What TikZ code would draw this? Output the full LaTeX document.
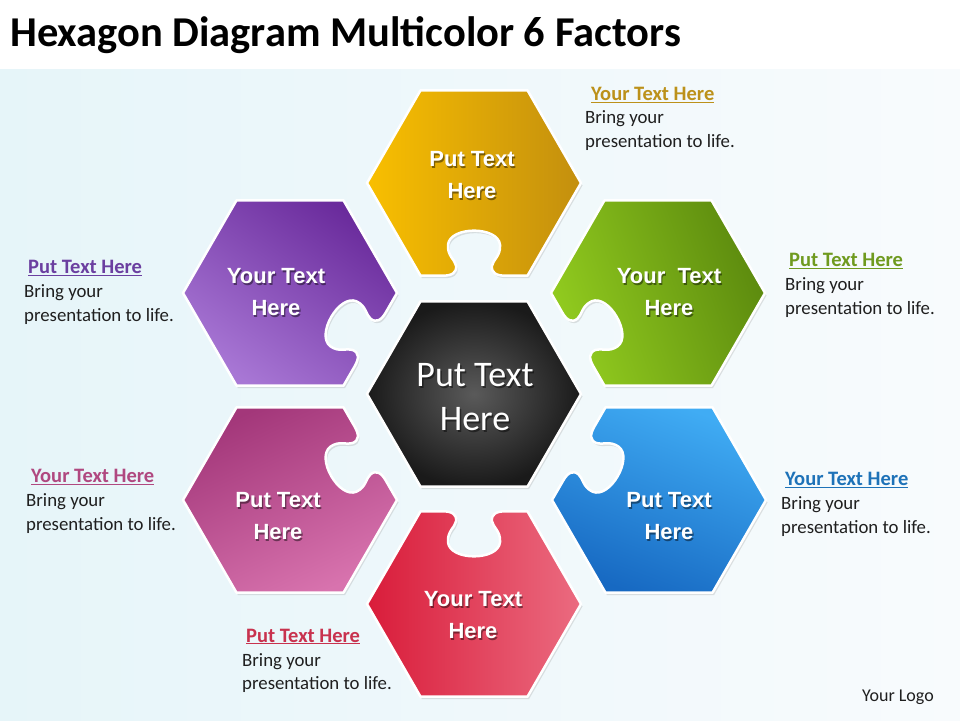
\documentclass[tikz,border=0pt]{standalone}
\usepackage{fontspec}
\setmainfont{Carlito}
\newfontfamily\labfont{Liberation Sans}
\usetikzlibrary{shadows}
\definecolor{bgA}{HTML}{E6F5F9}
\definecolor{bgB}{HTML}{F8FBFD}
\definecolor{oA}{HTML}{F9BF00}\definecolor{oB}{HTML}{C38F0E}
\definecolor{pA}{HTML}{6A2B9C}\definecolor{pB}{HTML}{A877D5}
\definecolor{gA}{HTML}{92CC1F}\definecolor{gB}{HTML}{5C8A0E}
\definecolor{cA}{HTML}{5A5A5A}\definecolor{cB}{HTML}{1A1A1A}
\definecolor{mA}{HTML}{A3377A}\definecolor{mB}{HTML}{D873AE}
\definecolor{bA}{HTML}{40ACF4}\definecolor{bB}{HTML}{1769C2}
\definecolor{rA}{HTML}{D91C3A}\definecolor{rB}{HTML}{EB6B80}
\definecolor{hO}{HTML}{BC911A}
\definecolor{hP}{HTML}{6B3FA0}
\definecolor{hG}{HTML}{6F9A1F}
\definecolor{hM}{HTML}{B04880}
\definecolor{hB}{HTML}{1E72B8}
\definecolor{hR}{HTML}{C8324E}
\newcommand\hexR{107}
\newcommand\hexH{92.66}
\newcommand\hexpiece[4]{%
  \begin{scope}[shift={(#1,#2)}]
    \path[piece,#4] ({60*(#3+1)}:\hexR)
      \foreach \j in {2,...,6}{ -- ({60*(#3+\j)}:\hexR) }
      {[shift={({60*#3+30}:\hexH)},rotate={60*#3+120}]
        -- (-31,0) .. controls (-22,0) and (-17,3) .. (-18,10)
        .. controls (-19,16) and (-27,20) .. (-26,31)
        .. controls (-25,40) and (-13,45) .. (0,45)
        .. controls (13,45) and (25,40) .. (26,31)
        .. controls (27,20) and (19,16) .. (18,10)
        .. controls (17,3) and (22,0) .. (31,0)}
      -- cycle;
  \end{scope}}
\newcommand\hexlabel[4]{% x, y, name, text
  \node[hexlbl,text=black,opacity=.45,xshift=1.2pt,yshift=-1.6pt] (#3-sh) at (#1,#2) {#4};
  \node[hexlbl] (#3) at (#1,#2) {#4};}
\newcommand\sidetext[7]{% name, hx, hy, color, heading, bx, by (first baseline)
  \node[sidehead,text=#4] (#1-h) at (#2,#3-3) {\underline{#5}};
  \node[sidebody] (#1-b) at (#6,#7-26.5) {Bring your\\presentation to life.};}
\tikzset{
  piece/.style={draw=white,line width=2.5pt,line join=round,
    drop shadow={shadow xshift=1.5pt,shadow yshift=-2.5pt,opacity=.22}},
  hexlbl/.style={text=white,align=center,inner sep=0pt,
    font=\labfont\bfseries\fontsize{22}{32}\selectfont},
  sidehead/.style={anchor=base west,inner sep=0pt,font=\bfseries\fontsize{20.5}{23}\selectfont},
  sidebody/.style={anchor=base west,inner sep=0pt,align=left,text=black!88,
    font=\fontsize{18.8}{23.5}\selectfont},
}
\begin{document}
\begin{tikzpicture}[x=1pt,y=1pt]
\useasboundingbox (0,0) rectangle (960,720);
\fill[white] (0,0) rectangle (960,720);
\shade[left color=bgA,right color=bgB] (0,0) rectangle (960,650);
\node[anchor=base west,inner sep=0pt,font=\bfseries\fontsize{42.5}{44}\selectfont] (title) at (10,673) {Hexagon Diagram Multicolor 6 Factors};
% centre hexagon
\begin{scope}[shift={(474,326)}]
  \path[piece,inner color=cA,outer color=cB] (0:\hexR) -- (60:\hexR) -- (120:\hexR) -- (180:\hexR) -- (240:\hexR) -- (300:\hexR) -- cycle;
\end{scope}
\hexpiece{474}{537}{4}{left color=oA,right color=oB}
\hexpiece{290}{427}{5}{top color=pA,bottom color=pB,shading angle=-35}
\hexpiece{658}{427}{3}{left color=gA,right color=gB,shading angle=110}
\hexpiece{290}{220}{0}{top color=mA,bottom color=mB,shading angle=25}
\hexpiece{659}{220}{2}{top color=bA,bottom color=bB,shading angle=-20}
\hexpiece{474}{116}{1}{left color=rA,right color=rB}
% labels in hexagons
\hexlabel{472}{545}{lo}{Put Text\\Here}
\hexlabel{276}{428}{lp}{Your Text\\Here}
\hexlabel{669}{428}{lg}{Your~ Text\\Here}
\hexlabel{278}{204}{lm}{Put Text\\Here}
\hexlabel{669}{204}{lb}{Put Text\\Here}
\hexlabel{473}{105}{lr}{Your Text\\Here}
\node[text=black,opacity=.45,align=center,inner sep=0pt,font=\fontsize{36}{44}\selectfont,xshift=1.5pt,yshift=-2pt] (lc-sh) at (475,323) {Put Text\\Here};
\node[text=white,align=center,inner sep=0pt,font=\fontsize{36}{44}\selectfont] (lc) at (475,323) {Put Text\\Here};
% side texts
\sidetext{so}{591}{622}{hO}{Your Text Here}{585}{599}
\sidetext{sp}{28}{449}{hP}{Put Text Here}{24}{425}
\sidetext{sg}{789}{456}{hG}{Put Text Here}{785}{432}
\sidetext{sm}{31}{240}{hM}{Your Text Here}{26}{216}
\sidetext{sb}{785}{237}{hB}{Your Text Here}{781}{213}
\sidetext{sr}{246}{81}{hR}{Put Text Here}{242}{57}
\node[anchor=base west,inner sep=0pt,font=\fontsize{18}{22}\selectfont,text=black!88] (logo) at (862,19) {Your Logo};
\end{tikzpicture}
\end{document}
